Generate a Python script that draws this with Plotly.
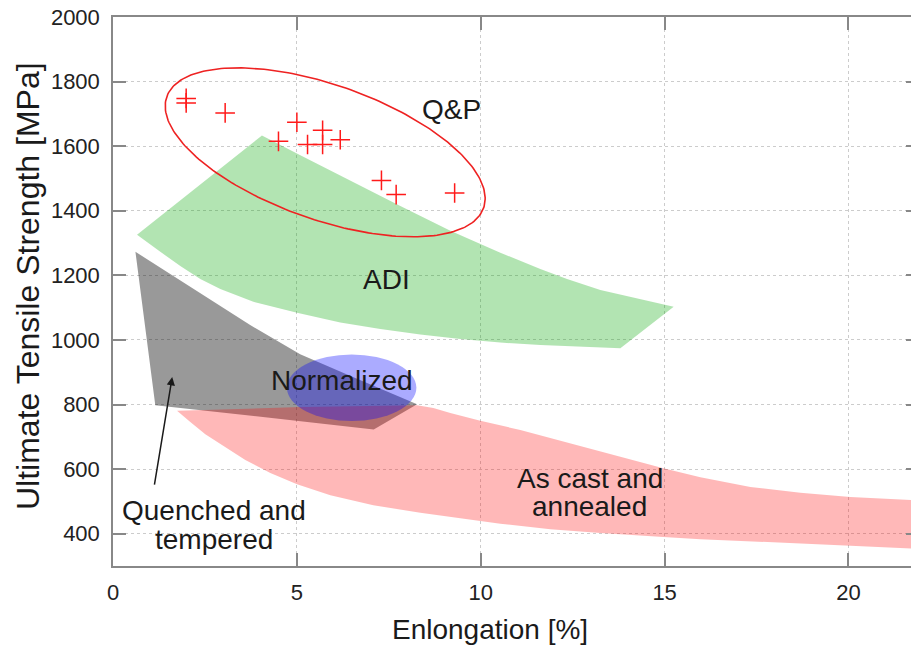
import numpy as np
import plotly.graph_objects as go

# ---------------- data ----------------
# Q&P measurements (elongation %, UTS MPa)
qp_elong = [1.99, 1.99, 3.05, 5.00, 4.50, 5.29, 5.70, 5.70, 6.18, 7.30, 7.70, 9.29]
qp_uts = [1748, 1734, 1703, 1674, 1615, 1605, 1649, 1605, 1620, 1494, 1450, 1455]

# ADI region outline
adi_elong = [0.653, 4.05, 5.095, 6.454, 7.814, 9.174, 10.533, 11.621, 12.347, 13.253,
             14.341, 15.246,
             13.797, 12.709, 11.621, 10.533, 9.445, 8.357, 7.269, 6.181, 5.004,
             3.816, 2.918, 2.374, 1.830, 1.286, 0.925, 0.653]
adi_uts = [1326, 1633, 1572, 1493, 1415, 1338, 1270, 1220, 1189, 1155,
           1126, 1103,
           974, 978, 984, 992, 1003, 1017, 1034, 1054, 1084,
           1118, 1158, 1189, 1229, 1273, 1304, 1326]

# Quenched and tempered region outline
qt_elong = [0.61, 1.29, 1.83, 2.37, 3.73, 5.09, 6.46, 8.27, 7.09, 1.15, 0.61]
qt_uts = [1273, 1223, 1186, 1146, 1046, 956, 888, 801, 723, 798, 1273]

# As cast and annealed region outline
ac_elong = [1.741, 5.094, 8.268, 8.711, 9.173, 9.989, 11.077, 11.893, 13.253, 14.966,
            15.973, 17.333, 18.692, 20.052, 21.738, 22.77,
            22.77, 21.738, 20.052, 18.692, 17.333, 15.973, 14.966, 13.253, 11.893,
            10.533, 9.445, 8.357, 7.079, 5.910, 5.004, 4.278, 3.598, 2.998, 2.510,
            2.102, 1.741]
ac_uts = [781, 792, 798, 789, 774, 750, 721, 696, 654, 603,
          575, 545, 527, 514, 504, 499,
          350, 354, 363, 369, 376, 383, 390, 402, 414,
          431, 448, 465, 488, 519, 553, 588, 628, 671, 708,
          746, 781]

# Normalized region (ellipse bounds)
norm_elong = [4.73, 8.25]
norm_uts = [749, 955]

# Q&P envelope ellipse: centre, semi-axes (in screen px), tilt (deg)
qp_ell_center = (5.77, 1581)
qp_ell_axes_px = (167.9, 67.4)
qp_ell_tilt_deg = 19.35

X_RANGE = [0, 21.7]
Y_RANGE = [300, 2000]
X_TICKS = [0, 5, 10, 15, 20]
Y_TICKS = [400, 600, 800, 1000, 1200, 1400, 1600, 1800, 2000]

# ---------------- layout geometry ----------------
W, H = 912, 651
ML, MR, MT, MB = 113, 1, 17, 85
PW, PH = W - ML - MR, H - MT - MB
px_per_x = PW / (X_RANGE[1] - X_RANGE[0])
px_per_y = PH / (Y_RANGE[1] - Y_RANGE[0])

t = np.linspace(0, 2 * np.pi, 240)
th = np.deg2rad(qp_ell_tilt_deg)
a, b = qp_ell_axes_px
dx = a * np.cos(t) * np.cos(th) - b * np.sin(t) * np.sin(th)
dy = a * np.cos(t) * np.sin(th) + b * np.sin(t) * np.cos(th)
ell_x = qp_ell_center[0] + dx / px_per_x
ell_y = qp_ell_center[1] - dy / px_per_y

FONT = "Liberation Sans, Arial, Helvetica, sans-serif"
TXT = "#1a1a1a"

fig = go.Figure()
fig.add_trace(go.Scatter(x=adi_elong, y=adi_uts, mode="lines", fill="toself",
                         fillcolor="rgba(0,165,0,0.30)", line=dict(width=0),
                         hoverinfo="skip", showlegend=False))
fig.add_trace(go.Scatter(x=qt_elong, y=qt_uts, mode="lines", fill="toself",
                         fillcolor="rgba(0,0,0,0.40)", line=dict(width=0),
                         hoverinfo="skip", showlegend=False))
fig.add_trace(go.Scatter(x=ac_elong, y=ac_uts, mode="lines", fill="toself",
                         fillcolor="rgba(255,0,0,0.28)", line=dict(width=0),
                         hoverinfo="skip", showlegend=False))
fig.add_trace(go.Scatter(x=ell_x, y=ell_y, mode="lines",
                         line=dict(color="#ee2222", width=1.6),
                         hoverinfo="skip", showlegend=False))
fig.add_trace(go.Scatter(x=qp_elong, y=qp_uts, mode="markers",
                         marker=dict(symbol="cross-thin", size=14,
                                     line=dict(color="#ff1a1a", width=1.5)),
                         showlegend=False))
# invisible helper trace for the mirrored right axis
fig.add_trace(go.Scatter(x=[X_RANGE[0]], y=[Y_RANGE[0]], yaxis="y2", mode="markers",
                         marker=dict(opacity=0), hoverinfo="skip", showlegend=False))

fig.add_shape(type="circle", xref="x", yref="y",
              x0=norm_elong[0], x1=norm_elong[1], y0=norm_uts[0], y1=norm_uts[1],
              fillcolor="rgba(0,0,255,0.33)", line=dict(width=0), layer="above")

ann_font = dict(family=FONT, size=28, color=TXT)
fig.add_annotation(x=9.2, y=1713, text="Q&amp;P", showarrow=False, font=ann_font)
fig.add_annotation(x=7.45, y=1186, text="ADI", showarrow=False, font=ann_font)
fig.add_annotation(x=6.24, y=873, text="Normalized", showarrow=False, font=ann_font)
fig.add_annotation(x=12.97, y=572, text="As cast and", showarrow=False, font=ann_font)
fig.add_annotation(x=12.97, y=483, text="annealed", showarrow=False, font=ann_font)
fig.add_annotation(x=2.75, y=473, text="Quenched and", showarrow=False, font=ann_font)
fig.add_annotation(x=2.75, y=383, text="tempered", showarrow=False, font=ann_font)
fig.add_annotation(x=1.61, y=885, ax=1.12, ay=547, axref="x", ayref="y",
                   text="", showarrow=True, arrowhead=2, arrowsize=1.1,
                   arrowwidth=1.5, arrowcolor=TXT)

# axis titles
fig.add_annotation(xref="paper", yref="paper", x=(490 - ML) / PW, y=-(629 - (MT + PH)) / PH,
                   xanchor="center", yanchor="middle",
                   text="Enlongation [%]", showarrow=False,
                   font=dict(family=FONT, size=28, color=TXT))
fig.add_annotation(xref="paper", yref="paper", x=-(ML - 28) / PW, y=1 - (286 - MT) / PH,
                   xanchor="center", yanchor="middle",
                   text="Ultimate Tensile Strength [MPa]", showarrow=False, textangle=-90,
                   font=dict(family=FONT, size=32, color=TXT))

axis_common = dict(showline=True, linecolor="#888888", linewidth=1.5,
                   ticks="inside", ticklen=13, tickwidth=1.5, tickcolor="#888888",
                   showgrid=True, gridcolor="#cccccc", gridwidth=1, griddash="dot",
                   zeroline=False,
                   tickfont=dict(family=FONT, size=22, color="#222222"))

fig.update_layout(
    width=W, height=H,
    margin=dict(l=ML, r=MR, t=MT, b=MB),
    paper_bgcolor="white", plot_bgcolor="white",
    xaxis=dict(range=X_RANGE, tickvals=X_TICKS, mirror="ticks",
               ticklabelstandoff=6, **axis_common),
    yaxis=dict(range=Y_RANGE, tickvals=Y_TICKS, ticklabelstandoff=7, **axis_common),
    yaxis2=dict(range=Y_RANGE, overlaying="y", side="right", showline=False,
                ticks="inside", ticklen=5, tickwidth=1.5, tickcolor="#888888",
                tickvals=Y_TICKS, showticklabels=False, showgrid=False, zeroline=False),
)

fig.write_html("out.html")
